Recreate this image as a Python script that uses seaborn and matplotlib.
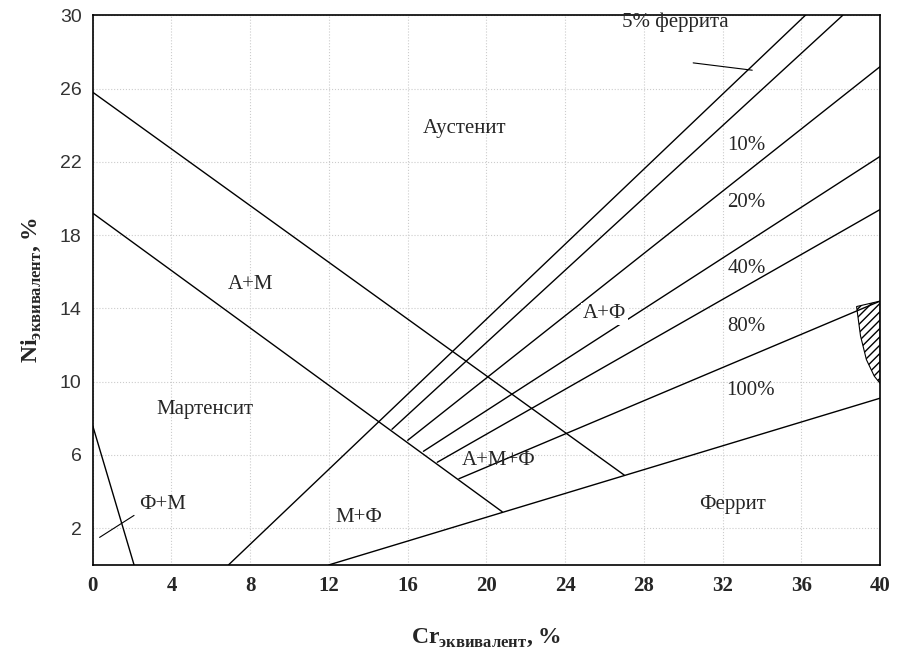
import matplotlib
matplotlib.use("Agg")
import matplotlib.pyplot as plt
import seaborn as sns
import pandas as pd

# boundary lines (x1, y1, x2, y2) in Cr/Ni equivalent units
line_names = ["M_upper", "M_lower", "FM", "ferrite", "f0", "f5", "f10", "f20", "f40", "f80"]
x_start = [0, 0, 0, 12, 6.9, 15.2, 16.0, 16.8, 17.5, 18.6]
y_start = [25.8, 19.2, 7.6, 0, 0, 7.4, 6.8, 6.2, 5.6, 4.7]
x_end = [27.0, 20.8, 2.1, 40, 36.2, 38.1, 40, 40, 40, 40]
y_end = [4.9, 2.9, 0, 9.1, 30, 30, 27.2, 22.3, 19.4, 14.4]

labels = ["Аустенит", "А+М", "Мартенсит", "Ф+М", "М+Ф", "А+М+Ф", "А+Ф", "Феррит",
          "5% феррита", "10%", "20%", "40%", "80%", "100%"]
label_x = [18.9, 8.0, 5.7, 3.55, 13.5, 20.6, 26.0, 32.5, 29.6, 33.2, 33.2, 33.2, 33.2, 33.4]
label_y = [23.8, 15.3, 8.5, 3.3, 2.6, 5.7, 13.7, 3.3, 29.6, 22.9, 19.8, 16.2, 13.0, 9.5]

sns.set_style("white")
fig = plt.figure(figsize=(9, 6.63), dpi=100)
ax = fig.add_axes([0.103, 0.148, 0.875, 0.829])

df = pd.DataFrame({"x": x_start + x_end, "y": y_start + y_end,
                   "line": line_names + line_names})
sns.lineplot(data=df, x="x", y="y", units="line", estimator=None, color="black",
             lw=1.0, ax=ax, sort=False)

# hatched region near right edge
hx = [38.8, 39.0, 39.3, 39.7, 40, 40]
hy = [14.1, 12.5, 11.2, 10.3, 9.9, 14.4]
ax.fill(hx, hy, facecolor="white", edgecolor="black", hatch="////", lw=0.8)

for t, x, y in zip(labels, label_x, label_y):
    ax.text(x, y, t, ha="center", va="center", fontsize=15,
            fontfamily="Liberation Serif",
            bbox=dict(facecolor="white", edgecolor="none", pad=1) if t == "А+Ф" else None)

# leader lines
ax.plot([30.5, 33.5], [27.4, 27.0], color="black", lw=0.8)
ax.plot([0.35, 2.1], [1.5, 2.7], color="black", lw=0.8)

ax.set_xlim(0, 40)
ax.set_ylim(0, 30)
ax.set_xticks(range(0, 41, 4))
ax.set_yticks(range(2, 31, 4))
ax.grid(True, color="#cccccc", ls=":", lw=0.8)
for lab in ax.get_xticklabels():
    lab.set_fontfamily("Liberation Serif")
    lab.set_fontweight("bold")
    lab.set_fontsize(15)
for lab in ax.get_yticklabels():
    lab.set_fontfamily("Liberation Sans")
    lab.set_fontsize(14)
    lab.set_color("#333333")
ax.tick_params(length=0, pad=8)
for s in ax.spines.values():
    s.set_color("black")
    s.set_linewidth(1.2)

ax.set_xlabel(r"Cr$_{\mathregular{эквивалент}}$, %", fontfamily="Liberation Serif",
              fontweight="bold", fontsize=17, labelpad=22)
ax.set_ylabel(r"Ni$_{\mathregular{эквивалент}}$, %", fontfamily="Liberation Serif",
              fontweight="bold", fontsize=17, labelpad=12)

fig.savefig("out.png", dpi=100)
